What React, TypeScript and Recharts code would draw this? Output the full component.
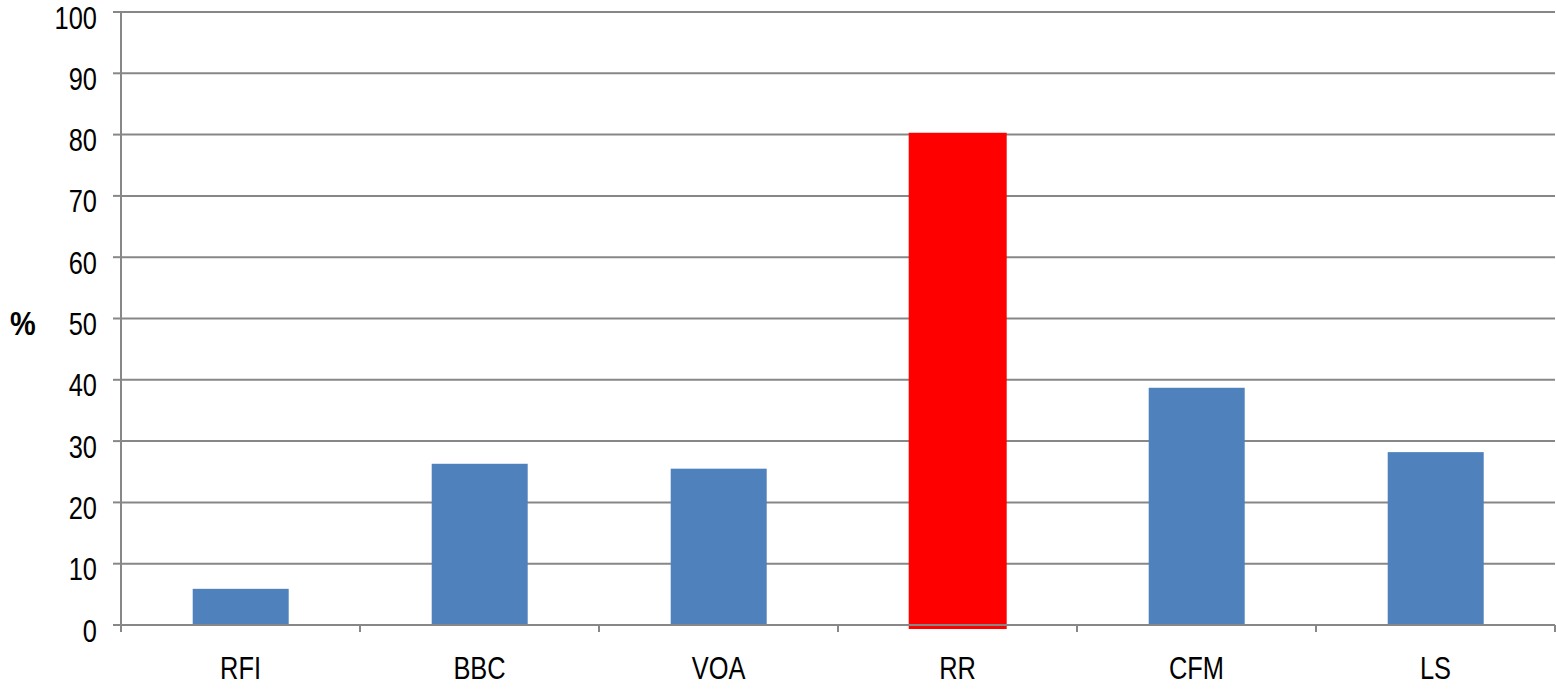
import { BarChart, Bar, XAxis, YAxis, CartesianGrid, Cell } from 'recharts'

const stations = ['RFI', 'BBC', 'VOA', 'RR', 'CFM', 'LS']
const shares = [5.9, 26.3, 25.5, 80.3, 38.7, 28.2]
const highlighted = 'RR'
const yTicks = [0, 10, 20, 30, 40, 50, 60, 70, 80, 90, 100]

const data = stations.map((name, i) => ({ name, value: shares[i] }))

const W = 1556
const H = 689
const MARGIN = { top: 12, right: 1, left: 0, bottom: 24 }
const Y_WIDTH = 121
const AXIS_GREY = '#878787'
const FONT = '"Liberation Sans", Arial, sans-serif'
// the original uses a narrow face, squeeze the regular one instead
const NARROW = 0.82

const halfBand = (W - MARGIN.left - MARGIN.right - Y_WIDTH) / stations.length / 2

function CategoryTick(props: any) {
  const { x, y, payload, index } = props
  const top = y - 8
  return (
    <g>
      <line x1={x - halfBand} x2={x - halfBand} y1={top} y2={top + 7} stroke={AXIS_GREY} strokeWidth={2} />
      {index === stations.length - 1 && (
        <line x1={x + halfBand} x2={x + halfBand} y1={top} y2={top + 7} stroke={AXIS_GREY} strokeWidth={2} />
      )}
      <g transform={`translate(${x},${top + 54}) scale(${NARROW},1)`}>
        <text x={0} y={0} textAnchor="middle" fontSize={31} fontFamily={FONT} fill="#000">
          {payload.value}
        </text>
      </g>
    </g>
  )
}

function ValueTick(props: any) {
  const { y, payload } = props
  return (
    <g transform={`translate(97,${y + 16.5}) scale(${NARROW},1)`}>
      <text x={0} y={0} textAnchor="end" fontSize={31} fontFamily={FONT} fill="#000">
        {payload.value}
      </text>
    </g>
  )
}

function PercentLabel() {
  return (
    <g transform={`translate(10,335) scale(0.85,1)`}>
      <text x={0} y={0} fontSize={34} fontWeight="bold" fontFamily={FONT} fill="#000">
        %
      </text>
    </g>
  )
}

function StationBar(props: any) {
  const { x, y, width, height, fill, payload } = props
  if (payload.name === highlighted) {
    return <rect x={x - 1} y={y} width={width + 2} height={height + 4} fill={fill} />
  }
  return <rect x={x} y={y} width={width} height={height} fill={fill} />
}

export default function App() {
  return (
    <div style={{ position: 'absolute', left: 0, top: 0, background: '#fff' }}>
      <BarChart width={W} height={H} data={data} margin={MARGIN} barCategoryGap="30%">
        <CartesianGrid vertical={false} stroke={AXIS_GREY} strokeWidth={2} />
        <XAxis
          dataKey="name"
          height={40}
          axisLine={{ stroke: AXIS_GREY, strokeWidth: 2 }}
          tickLine={false}
          tick={<CategoryTick />}
          interval={0}
        />
        <YAxis
          width={Y_WIDTH}
          domain={[0, 100]}
          ticks={yTicks}
          interval={0}
          axisLine={{ stroke: AXIS_GREY, strokeWidth: 2 }}
          tickLine={{ stroke: AXIS_GREY, strokeWidth: 2 }}
          tickSize={8}
          tick={<ValueTick />}
          label={<PercentLabel />}
        />
        <Bar dataKey="value" isAnimationActive={false} shape={<StationBar />}>
          {data.map((d) => (
            <Cell key={d.name} fill={d.name === highlighted ? '#FF0000' : '#4F81BD'} />
          ))}
        </Bar>
      </BarChart>
    </div>
  )
}
